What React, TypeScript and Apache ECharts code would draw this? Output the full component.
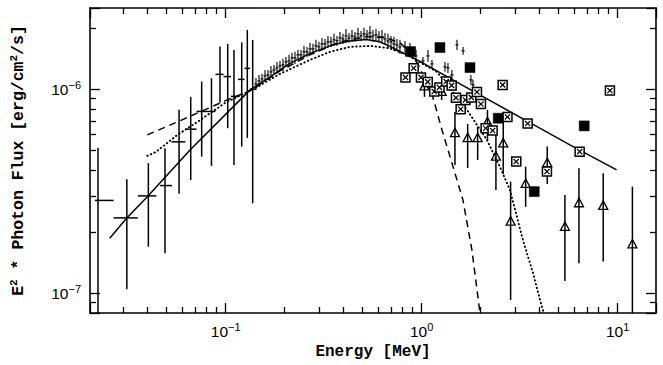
import React, { useEffect, useRef } from 'react';
import * as echarts from 'echarts';

// Flux values below are in units of 1e-6 erg/cm^2/s; energies in MeV.
const FLUX_UNIT = 1e-6;

// Low-energy points: [E, Emin, Emax, F, Fmin, Fmax]
const lowEnergyPoints = [
  [0.0223, 0.0215, 0.0268, 0.285, 0.06, 0.516],
  [0.0313, 0.0268, 0.0356, 0.234, 0.1046, 0.362],
  [0.0403, 0.0356, 0.0443, 0.3, 0.169, 0.434],
  [0.049, 0.0462, 0.0532, 0.337, 0.157, 0.514],
  [0.0578, 0.0529, 0.0622, 0.552, 0.307, 0.792],
  [0.0663, 0.0622, 0.071, 0.637, 0.359, 0.917],
  [0.0754, 0.071, 0.0803, 0.778, 0.467, 1.09],
  [0.0846, 0.0803, 0.0887, 0.778, 0.421, 1.132],
  [0.0935, 0.0887, 0.0975, 1.182, 0.857, 1.618],
  [0.1024, 0.0975, 0.1064, 1.153, 0.644, 1.668],
  [0.1102, 0.1064, 0.1156, 0.922, 0.425, 1.558],
  [0.1207, 0.1156, 0.1247, 1.117, 0.523, 1.696],
  [0.1289, 0.1247, 0.1331, 1.265, 0.577, 1.953],
  [0.1373, 0.1331, 0.1428, 1.001, 0.276, 1.745],
];

// Dense spectrum points: [E, F, Fmin, Fmax]
const densePoints = [
  [0.1427, 1.062, 0.992, 1.136], [0.1479, 1.098, 1.026, 1.175], [0.1532, 1.123, 1.062, 1.189],
  [0.1587, 1.162, 1.086, 1.243], [0.1643, 1.175, 1.111, 1.243], [0.1702, 1.216, 1.136, 1.301],
  [0.1764, 1.243, 1.175, 1.315], [0.1826, 1.272, 1.189, 1.361], [0.1892, 1.301, 1.229, 1.376],
  [0.196, 1.315, 1.229, 1.408], [0.203, 1.361, 1.286, 1.44], [0.2104, 1.376, 1.286, 1.473],
  [0.2179, 1.424, 1.345, 1.507], [0.2257, 1.424, 1.33, 1.524], [0.2338, 1.473, 1.392, 1.558],
  [0.2422, 1.473, 1.392, 1.558], [0.2509, 1.524, 1.424, 1.631], [0.2599, 1.524, 1.44, 1.612],
  [0.2692, 1.576, 1.473, 1.687], [0.2789, 1.576, 1.489, 1.668], [0.2889, 1.631, 1.524, 1.745],
  [0.2992, 1.612, 1.524, 1.706], [0.31, 1.668, 1.558, 1.784], [0.3211, 1.668, 1.576, 1.764],
  [0.3326, 1.706, 1.594, 1.825], [0.3445, 1.706, 1.612, 1.805], [0.357, 1.745, 1.631, 1.867],
  [0.3697, 1.725, 1.631, 1.825], [0.383, 1.784, 1.668, 1.909], [0.3967, 1.764, 1.668, 1.867],
  [0.411, 1.825, 1.687, 1.975], [0.4257, 1.784, 1.687, 1.888], [0.441, 1.825, 1.706, 1.953],
  [0.4568, 1.805, 1.706, 1.909], [0.4732, 1.867, 1.745, 1.998], [0.4902, 1.825, 1.725, 1.931],
  [0.5078, 1.867, 1.745, 1.998], [0.526, 1.846, 1.745, 1.953], [0.5449, 1.888, 1.745, 2.043],
  [0.5644, 1.825, 1.706, 1.953], [0.5846, 1.846, 1.725, 1.975], [0.6056, 1.805, 1.687, 1.931],
  [0.6273, 1.805, 1.668, 1.953], [0.6499, 1.764, 1.649, 1.888], [0.6731, 1.725, 1.594, 1.867],
  [0.6973, 1.706, 1.594, 1.825], [0.7224, 1.668, 1.541, 1.805], [0.7482, 1.649, 1.541, 1.764],
  [0.775, 1.612, 1.489, 1.745], [0.822, 1.612, 1.507, 1.725], [0.8716, 1.558, 1.44, 1.687],
  [0.9352, 1.456, 1.361, 1.558], [1.0153, 1.376, 1.315, 1.44], [1.077, 1.456, 1.361, 1.558],
  [1.129, 1.33, 1.272, 1.392], [1.315, 1.286, 1.216, 1.361], [1.362, 1.272, 1.202, 1.345],
  [1.427, 1.175, 1.111, 1.243], [1.514, 1.649, 1.558, 1.745], [1.627, 1.541, 1.473, 1.612],
  [1.784, 1.111, 1.05, 1.175], [1.827, 1.05, 0.992, 1.111],
];

// Boxed-cross squares: [E, F]
const boxedPoints = [
  [0.8269, 1.1425], [0.9103, 1.2675], [0.9918, 1.1425], [1.0743, 1.086], [1.1594, 0.9732],
  [1.2325, 1.0205], [1.335, 1.0897], [1.4224, 1.0438], [1.4962, 0.9085], [1.5812, 0.798],
  [1.6729, 0.886], [1.7912, 0.9117], [1.9149, 0.9678], [2.0069, 0.8452], [2.1212, 0.6439],
  [2.3023, 0.6267], [2.5899, 1.0498], [2.7404, 0.7314], [3.0391, 0.4417], [3.4738, 0.6783],
  [4.3581, 0.3946], [6.3998, 0.4943], [9.1357, 0.9843],
];

// Filled squares: [E, F]
const filledPoints = [
  [0.8787, 1.529], [1.2397, 1.6], [1.7644, 1.276], [2.459, 0.7206], [3.7545, 0.3148], [6.7534, 0.6609],
];

// Triangles: [E, F, Fmin, Fmax]
const trianglePoints = [
  [1.0335, 1.032, 0.917, 1.111], [1.2648, 0.97, 0.886, 1.03], [1.4787, 0.6085, 0.4254, 0.7738],
  [1.717, 0.5751, 0.4114, 0.6761], [1.931, 0.5751, 0.45, 0.6536], [2.1667, 0.6876, 0.564, 0.792],
  [2.3933, 0.4673, 0.321, 0.6536], [2.6081, 0.5424, 0.3843, 0.7568], [2.8445, 0.2244, 0.0927, 0.3524],
  [3.3937, 0.3433, 0.2649, 0.4174], [4.3732, 0.4338, 0.3433, 0.5231], [5.3839, 0.2113, 0.1149, 0.303],
  [6.3484, 0.2761, 0.1403, 0.41], [8.443, 0.2679, 0.1429, 0.3876], [11.899, 0.1734, 0.06, 0.3331],
];

// Model curves: [E, F]
const solidModel = [
  [0.0256, 0.186], [0.03126, 0.2339], [0.04015, 0.2999], [0.06575, 0.504], [0.1331, 0.9921],
  [0.1702, 1.155], [0.2104, 1.33], [0.2692, 1.498], [0.3404, 1.631], [0.4307, 1.725],
  [0.5199, 1.754], [0.6127, 1.706], [0.7139, 1.594], [0.8414, 1.473], [0.9802, 1.369],
  [1.5684, 1.062], [3.3651, 0.707], [5.7075, 0.533], [9.8833, 0.402],
];
const dashedModel = [
  [0.03981, 0.597], [0.05512, 0.6835], [0.07392, 0.7738], [0.09918, 0.8762], [0.1358, 0.992],
  [0.1892, 1.229], [0.2692, 1.473], [0.383, 1.706], [0.5138, 1.805], [0.6499, 1.794],
  [0.775, 1.687], [0.8716, 1.524], [0.9575, 1.33], [1.0395, 1.111], [1.1287, 0.948],
  [1.2694, 0.632], [1.4272, 0.4352], [1.6238, 0.2867], [1.8049, 0.1631], [1.9838, 0.08007],
];
const dottedModel = [
  [0.03981, 0.471], [0.04358, 0.49], [0.049, 0.5333], [0.05577, 0.5904], [0.06424, 0.6459],
  [0.07224, 0.6939], [0.09918, 0.8567], [0.1358, 0.992], [0.1892, 1.189], [0.2692, 1.392],
  [0.3404, 1.524], [0.4307, 1.612], [0.5449, 1.631], [0.6891, 1.585], [0.8414, 1.473],
  [1.197, 1.216], [1.7025, 0.792], [2.154, 0.5642], [2.5087, 0.416], [2.8219, 0.3209],
  [3.287, 0.1825], [3.6982, 0.1257], [4.1106, 0.08567], [4.2073, 0.08007],
];

const X_MIN = 0.0203;
const X_MAX = 15.7;
const Y_MIN = 8.0e-8;
const Y_MAX = 2.5e-6;

const scaleRows = (rows: number[][], fluxCols: number[]) =>
  rows.map((r) => r.map((v, i) => (fluxCols.includes(i) ? v * FLUX_UNIT : v)));

const powerLabel = (v: number) => {
  const e = Math.log10(v);
  const r = Math.round(e);
  if (Math.abs(e - r) > 1e-6) return '';
  return `{b|10}{s|${r < 0 ? '\u2212' + Math.abs(r) : r}}`;
};

const labelRich = {
  b: { fontFamily: 'Liberation Sans', fontSize: 15.5, color: '#000', lineHeight: 20 },
  s: { fontFamily: 'Liberation Sans', fontSize: 11, color: '#000', verticalAlign: 'top', lineHeight: 12 },
};

const BLACK = '#000';

function axisBase(extra: any) {
  return {
    type: 'log',
    logBase: 10,
    axisLine: { show: true, onZero: false, lineStyle: { color: BLACK, width: 1.6 } },
    axisTick: { show: true, inside: true, length: 10, lineStyle: { color: BLACK, width: 1.3 } },
    minorTick: { show: true, splitNumber: 9, length: 6, lineStyle: { color: BLACK, width: 1.3 } },
    splitLine: { show: false },
    minorSplitLine: { show: false },
    ...extra,
  };
}

const lineStyleOf = (type: any, width = 1.5, cap: any = 'butt') => ({ color: BLACK, width, type, cap });

export default function App() {
  const ref = useRef<HTMLDivElement>(null);

  useEffect(() => {
    const chart = echarts.init(ref.current as HTMLDivElement, null, { renderer: 'svg' });

    const option: any = {
      animation: false,
      backgroundColor: '#fff',
      grid: { left: 90, right: 7, top: 8, bottom: 52, containLabel: false },
      xAxis: [
        axisBase({
          position: 'bottom',
          min: X_MIN,
          max: X_MAX,
          axisLabel: { show: true, margin: 8, formatter: powerLabel, rich: labelRich },
          name: 'Energy [MeV]',
          nameLocation: 'middle',
          nameGap: 29,
          nameTextStyle: { fontFamily: 'Liberation Mono', fontWeight: 'bold', fontSize: 16, color: BLACK },
        }),
        axisBase({ position: 'top', min: X_MIN, max: X_MAX, axisLabel: { show: false } }),
      ],
      yAxis: [
        axisBase({
          position: 'left',
          min: Y_MIN,
          max: Y_MAX,
          axisLabel: { show: true, margin: 9, formatter: powerLabel, rich: labelRich },
          name: '{t|E}{u|2}{t| * Photon Flux [erg/cm}{u|2}{t|/s]}',
          nameLocation: 'middle',
          nameGap: 62,
          nameTextStyle: {
            color: BLACK,
            rich: {
              t: { fontFamily: 'Liberation Mono', fontWeight: 'bold', fontSize: 16.5, lineHeight: 20, color: BLACK },
              u: { fontFamily: 'Liberation Mono', fontWeight: 'bold', fontSize: 11, lineHeight: 12, verticalAlign: 'top', color: BLACK },
            },
          },
        }),
        axisBase({ position: 'right', min: Y_MIN, max: Y_MAX, axisLabel: { show: false } }),
      ],
      series: [
        {
          type: 'line',
          data: scaleRows(solidModel, [1]),
          showSymbol: false,
          smooth: false,
          lineStyle: lineStyleOf('solid', 1.5),
          z: 2,
        },
        {
          type: 'line',
          data: scaleRows(dashedModel, [1]),
          showSymbol: false,
          smooth: false,
          lineStyle: lineStyleOf([7, 5], 1.5),
          z: 2,
        },
        {
          type: 'line',
          data: scaleRows(dottedModel, [1]),
          showSymbol: false,
          smooth: false,
          lineStyle: lineStyleOf([0.5, 3.4], 1.9, 'round'),
          z: 2,
        },
        {
          type: 'custom',
          clip: true,
          z: 3,
          encode: { x: [0, 1, 2], y: [3, 4, 5] },
          data: scaleRows(lowEnergyPoints, [3, 4, 5]),
          renderItem: (_p: any, api: any) => {
            const c = api.coord([api.value(0), api.value(3)]);
            const l = api.coord([api.value(1), api.value(3)]);
            const r = api.coord([api.value(2), api.value(3)]);
            const lo = api.coord([api.value(0), api.value(4)]);
            const hi = api.coord([api.value(0), api.value(5)]);
            const st = { stroke: BLACK, lineWidth: 1.5 };
            return {
              type: 'group',
              children: [
                { type: 'line', shape: { x1: l[0], y1: c[1], x2: r[0], y2: c[1] }, style: st },
                { type: 'line', shape: { x1: c[0], y1: hi[1], x2: c[0], y2: lo[1] }, style: st },
              ],
            };
          },
        },
        {
          type: 'custom',
          clip: true,
          z: 3,
          encode: { x: 0, y: [1, 2, 3] },
          data: scaleRows(densePoints, [1, 2, 3]),
          renderItem: (_p: any, api: any) => {
            const c = api.coord([api.value(0), api.value(1)]);
            const lo = api.coord([api.value(0), api.value(2)]);
            const hi = api.coord([api.value(0), api.value(3)]);
            const st = { stroke: BLACK, lineWidth: 1.1 };
            return {
              type: 'group',
              children: [
                { type: 'line', shape: { x1: c[0], y1: hi[1], x2: c[0], y2: lo[1] }, style: st },
                { type: 'line', shape: { x1: c[0] - 1.6, y1: c[1], x2: c[0] + 1.6, y2: c[1] }, style: st },
              ],
            };
          },
        },
        {
          type: 'custom',
          clip: true,
          z: 4,
          encode: { x: 0, y: [1, 2, 3] },
          data: scaleRows(trianglePoints, [1, 2, 3]),
          renderItem: (_p: any, api: any) => {
            const c = api.coord([api.value(0), api.value(1)]);
            const lo = api.coord([api.value(0), api.value(2)]);
            const hi = api.coord([api.value(0), api.value(3)]);
            return {
              type: 'group',
              children: [
                { type: 'line', shape: { x1: c[0], y1: hi[1], x2: c[0], y2: lo[1] }, style: { stroke: BLACK, lineWidth: 1.5 } },
                {
                  type: 'polygon',
                  shape: { points: [[c[0], c[1] - 5], [c[0] - 4.5, c[1] + 3.5], [c[0] + 4.5, c[1] + 3.5]] },
                  style: { stroke: BLACK, fill: 'none', lineWidth: 1.3 },
                },
              ],
            };
          },
        },
        {
          type: 'custom',
          clip: true,
          z: 5,
          encode: { x: 0, y: 1 },
          data: scaleRows(boxedPoints, [1]),
          renderItem: (_p: any, api: any) => {
            const c = api.coord([api.value(0), api.value(1)]);
            const s = 4.5;
            const d = 2.6;
            const st = { stroke: BLACK, lineWidth: 1.2 };
            return {
              type: 'group',
              children: [
                { type: 'rect', shape: { x: c[0] - s, y: c[1] - s, width: 2 * s, height: 2 * s }, style: { stroke: BLACK, fill: '#fff', lineWidth: 1.5 } },
                { type: 'line', shape: { x1: c[0] - d, y1: c[1] - d, x2: c[0] + d, y2: c[1] + d }, style: st },
                { type: 'line', shape: { x1: c[0] - d, y1: c[1] + d, x2: c[0] + d, y2: c[1] - d }, style: st },
              ],
            };
          },
        },
        {
          type: 'custom',
          clip: true,
          z: 5,
          encode: { x: 0, y: 1 },
          data: scaleRows(filledPoints, [1]),
          renderItem: (_p: any, api: any) => {
            const c = api.coord([api.value(0), api.value(1)]);
            const s = 5;
            return {
              type: 'rect',
              shape: { x: c[0] - s, y: c[1] - s, width: 2 * s, height: 2 * s },
              style: { fill: BLACK, stroke: BLACK, lineWidth: 0.5 },
            };
          },
        },
      ],
    };

    chart.setOption(option);
    return () => chart.dispose();
  }, []);

  return (
    <div
      ref={ref}
      style={{ position: 'absolute', left: 0, top: 0, width: 663, height: 365, background: '#fff' }}
    />
  );
}
